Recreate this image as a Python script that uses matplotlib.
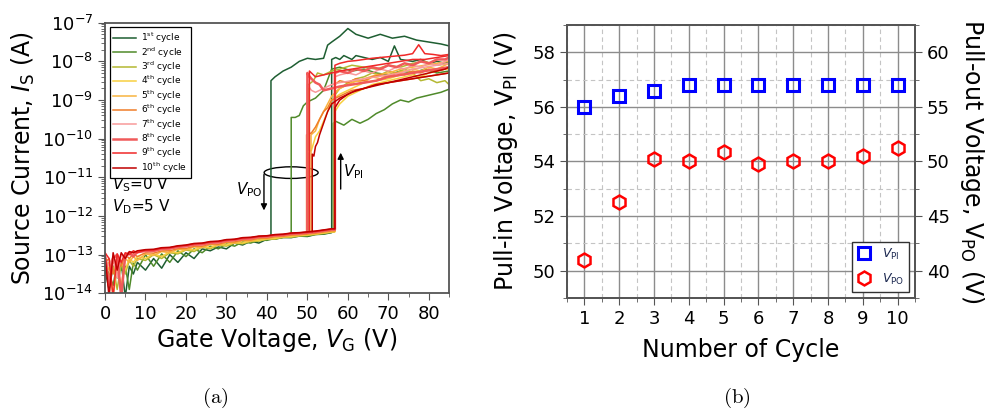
import numpy as np
import matplotlib
matplotlib.use("Agg")
import matplotlib.pyplot as plt
from matplotlib.patches import Ellipse
from matplotlib.ticker import MultipleLocator, LogLocator, NullFormatter

# ---- panel (a): I-V sweeps, log10 of source current ----
cycle_labels = ["1$^{\\rm st}$ cycle", "2$^{\\rm nd}$ cycle", "3$^{\\rm rd}$ cycle",
                "4$^{\\rm th}$ cycle", "5$^{\\rm th}$ cycle", "6$^{\\rm th}$ cycle",
                "7$^{\\rm th}$ cycle", "8$^{\\rm th}$ cycle", "9$^{\\rm th}$ cycle",
                "10$^{\\rm th}$ cycle"]
cycle_colors = ["#1e5e32", "#4f8a2a", "#b4b832", "#f8d040", "#f8b440",
                "#f07d28", "#f89a9a", "#f05a5a", "#f02828", "#c00000"]

base_v = [0, 1, 2, 3, 4, 5, 6, 7, 8, 10, 12, 14, 16, 18, 20, 22, 24, 26, 28, 30,
          32, 34, 36, 38, 40, 42, 44, 46, 48, 50, 52, 54, 56]
base_log = [
    [-13.4, -13.9, -13.3, -13.6, -13.2, -14.1, -13.3, -13.5, -13.2, -13.4, -13.1, -13.35, -13.0, -13.2, -12.95, -13.1, -12.85,
     -12.9, -12.8, -12.85, -12.7, -12.75, -12.65, -12.7, -12.6, -12.6, -12.55, -12.56, -12.52, -12.53, -12.48, -12.47, -12.43],
    [-13.3, -13.5, -13.8, -13.2, -13.4, -13.3, -13.9, -13.2, -13.4, -13.0, -13.3, -12.98, -13.2, -12.9, -13.05, -12.85, -12.95,
     -12.78, -12.85, -12.72, -12.78, -12.67, -12.7, -12.62, -12.63, -12.58, -12.56, -12.55, -12.51, -12.52, -12.47, -12.46, -12.42],
    [-13.2, -13.6, -13.3, -13.9, -13.25, -13.5, -13.15, -13.3, -13.1, -13.15, -13.0, -13.1, -12.95, -12.98, -12.88, -12.92, -12.8,
     -12.85, -12.75, -12.78, -12.7, -12.72, -12.66, -12.65, -12.6, -12.6, -12.55, -12.55, -12.52, -12.5, -12.48, -12.45, -12.42],
    [-13.3, -13.2, -14.1, -13.3, -13.15, -13.4, -13.1, -13.2, -13.05, -13.1, -12.98, -13.05, -12.92, -12.95, -12.86, -12.88, -12.79,
     -12.82, -12.74, -12.75, -12.69, -12.7, -12.64, -12.63, -12.59, -12.58, -12.54, -12.53, -12.5, -12.49, -12.46, -12.44, -12.41],
    [-13.1, -13.4, -13.2, -13.3, -13.8, -13.1, -13.2, -13.05, -13.15, -12.98, -13.02, -12.92, -12.95, -12.86, -12.88, -12.8, -12.82,
     -12.74, -12.76, -12.69, -12.7, -12.64, -12.65, -12.59, -12.59, -12.55, -12.54, -12.51, -12.5, -12.47, -12.46, -12.43, -12.4],
    [-13.2, -13.1, -13.5, -13.05, -13.3, -13.0, -13.1, -12.98, -13.05, -12.95, -12.96, -12.9, -12.9, -12.84, -12.84, -12.78, -12.78,
     -12.72, -12.73, -12.67, -12.67, -12.62, -12.62, -12.57, -12.57, -12.53, -12.52, -12.49, -12.48, -12.46, -12.44, -12.41, -12.38],
    [-13.1, -13.3, -13.05, -13.6, -13.0, -13.1, -12.98, -13.0, -12.95, -12.92, -12.92, -12.87, -12.86, -12.81, -12.8, -12.75, -12.75,
     -12.7, -12.69, -12.65, -12.63, -12.6, -12.59, -12.55, -12.54, -12.51, -12.5, -12.47, -12.46, -12.44, -12.42, -12.39, -12.36],
    [-13.0, -13.8, -13.1, -13.0, -14.1, -13.0, -12.95, -13.05, -12.92, -12.9, -12.9, -12.85, -12.84, -12.8, -12.78, -12.74, -12.73,
     -12.69, -12.68, -12.64, -12.62, -12.59, -12.58, -12.54, -12.53, -12.5, -12.49, -12.46, -12.45, -12.43, -12.41, -12.38, -12.35],
    [-12.95, -13.1, -14.1, -12.98, -13.2, -12.95, -13.0, -12.9, -12.95, -12.88, -12.88, -12.83, -12.82, -12.78, -12.76, -12.72, -12.71,
     -12.67, -12.66, -12.62, -12.61, -12.57, -12.56, -12.53, -12.52, -12.49, -12.48, -12.45, -12.44, -12.42, -12.4, -12.37, -12.34],
    [-13.0, -14.1, -12.95, -13.4, -12.95, -13.1, -12.92, -12.95, -12.9, -12.87, -12.86, -12.82, -12.81, -12.77, -12.75, -12.71, -12.7,
     -12.66, -12.65, -12.61, -12.6, -12.56, -12.55, -12.52, -12.51, -12.48, -12.47, -12.44, -12.43, -12.41, -12.39, -12.36, -12.33],
]

# forward branch after pull-in (starts at V_PI)
up_v = [
    [56, 57, 58, 59, 60, 61, 62, 64, 66, 68, 70, 71.5, 73, 76, 78, 80, 82, 84, 85],
    [56.4, 57, 59, 61, 63, 65, 67, 69, 71, 73, 75, 77, 79, 81, 83, 85],
    [56.6, 58, 60, 62, 64, 66, 68, 70, 72, 74, 76, 78, 80, 82, 84, 85],
    [56.8, 58, 60, 62, 64, 66, 68, 70, 72, 74, 76, 78, 80, 82, 84, 85],
    [56.8, 58, 60, 62, 64, 66, 68, 70, 72, 74, 76, 78, 80, 82, 84, 85],
    [56.8, 58, 60, 62, 64, 66, 68, 70, 72, 74, 76, 78, 80, 82, 84, 85],
    [56.8, 58, 60, 62, 64, 66, 68, 70, 72, 74, 76, 78, 80, 82, 84, 85],
    [56.8, 58, 60, 62, 64, 66, 68, 70, 72, 74, 76, 78, 80, 82, 84, 85],
    [56.8, 58, 60, 62, 64, 66, 68, 70, 72, 74, 76, 77.5, 79, 81, 83, 85],
    [56.8, 58, 60, 62, 64, 66, 68, 70, 72, 74, 76, 78, 80, 82, 84, 85],
]
up_log = [
    [-7.95, -7.9, -7.95, -7.85, -7.9, -7.95, -7.85, -7.9, -7.95, -7.9, -8.0, -7.6, -7.95, -8.0, -7.95, -8.05, -8.0, -8.05, -8.0],
    [-9.6, -9.55, -9.65, -9.5, -9.6, -9.5, -9.35, -9.25, -9.1, -9.0, -9.05, -8.95, -8.9, -8.85, -8.8, -8.72],
    [-8.9, -8.7, -8.55, -8.45, -8.4, -8.3, -8.35, -8.25, -8.3, -8.2, -8.3, -8.5, -8.45, -8.55, -8.5, -8.6],
    [-9.3, -9.1, -8.9, -8.8, -8.7, -8.6, -8.55, -8.5, -8.45, -8.4, -8.35, -8.4, -8.3, -8.25, -8.2, -8.2],
    [-8.8, -8.7, -8.6, -8.5, -8.55, -8.4, -8.45, -8.35, -8.3, -8.25, -8.2, -8.25, -8.15, -8.2, -8.1, -8.05],
    [-8.6, -8.5, -8.55, -8.45, -8.5, -8.4, -8.35, -8.4, -8.3, -8.35, -8.25, -8.3, -8.2, -8.25, -8.2, -8.15],
    [-8.4, -8.35, -8.3, -8.35, -8.25, -8.3, -8.2, -8.25, -8.15, -8.2, -8.1, -8.15, -8.05, -8.1, -8.0, -7.95],
    [-8.3, -8.25, -8.3, -8.2, -8.25, -8.15, -8.2, -8.1, -8.15, -8.05, -8.1, -8.0, -8.05, -7.95, -7.95, -7.9],
    [-8.1, -8.05, -8.0, -7.98, -7.95, -7.92, -7.9, -7.88, -7.86, -7.84, -7.8, -7.57, -7.8, -7.82, -7.85, -7.82],
    [-9.2, -9.0, -8.85, -8.75, -8.7, -8.65, -8.6, -8.55, -8.5, -8.45, -8.4, -8.35, -8.3, -8.25, -8.2, -8.15],
]

# backward branch, 85 V down to V_PO, ending with the drop
dn_v = [
    [85, 83, 80, 77, 74, 71, 68, 65, 62, 60, 58, 56, 55, 54, 52, 50, 48, 46, 44, 42, 41, 41],
    [85, 82, 79, 76, 73, 70, 67, 64, 61, 58, 56, 54, 52, 50, 49, 48, 47, 46, 46],
    [85, 82, 79, 76, 73, 70, 67, 64, 61, 58, 56, 54, 52.5, 51.5, 50.3, 50.3],
    [85, 82, 79, 76, 73, 70, 67, 64, 61, 58, 56, 55, 54, 53, 52, 51, 50, 50],
    [85, 82, 79, 76, 73, 70, 67, 64, 61, 58, 56, 55, 54, 53, 52, 50.9, 50.9],
    [85, 82, 79, 76, 73, 70, 67, 64, 61, 58, 56, 55, 54, 53, 52, 51, 49.8, 49.8],
    [85, 82, 79, 76, 73, 70, 67, 64, 61, 58, 56, 54, 52, 51, 50, 50],
    [85, 82, 79, 76, 73, 70, 67, 64, 61, 58, 56, 54, 53, 52, 51, 50.2, 50, 50],
    [85, 82, 79, 76, 73, 70, 67, 64, 61, 58, 56, 54, 52, 51, 50.5, 50.5],
    [85, 82, 79, 76, 73, 70, 67, 64, 61, 58, 56, 55, 54, 53, 52.5, 52, 51.6, 51.2, 51.2],
]
dn_log = [
    [-7.6, -7.55, -7.5, -7.45, -7.35, -7.4, -7.3, -7.4, -7.3, -7.15, -7.35, -7.5, -7.58, -7.92, -7.95, -7.92, -8.0, -8.15, -8.25, -8.4, -8.5, -12.53],
    [-8.25, -8.3, -8.2, -8.3, -8.25, -8.35, -8.3, -8.2, -8.25, -8.15, -8.2, -8.75, -8.95, -9.05, -9.15, -9.4, -9.45, -9.45, -12.47],
    [-8.05, -8.1, -8.0, -8.05, -8.15, -8.1, -8.2, -8.15, -8.1, -8.2, -8.25, -8.35, -8.3, -8.5, -8.6, -12.45],
    [-8.15, -8.2, -8.25, -8.3, -8.35, -8.45, -8.5, -8.55, -8.7, -8.85, -9.0, -9.3, -9.55, -9.8, -9.95, -10.3, -10.35, -12.44],
    [-8.0, -8.05, -8.1, -8.15, -8.2, -8.3, -8.35, -8.45, -8.55, -8.7, -8.9, -9.1, -9.3, -9.5, -9.8, -9.9, -12.42],
    [-8.3, -8.35, -8.4, -8.45, -8.5, -8.55, -8.6, -8.7, -8.75, -8.9, -9.0, -9.2, -9.3, -9.5, -9.7, -9.85, -9.9, -12.46],
    [-8.05, -8.1, -8.15, -8.2, -8.3, -8.35, -8.4, -8.45, -8.5, -8.55, -8.6, -8.7, -8.8, -8.75, -8.6, -12.44],
    [-8.15, -8.2, -8.25, -8.3, -8.35, -8.4, -8.5, -8.55, -8.6, -8.65, -8.7, -8.75, -8.6, -8.55, -8.45, -8.35, -8.3, -12.43],
    [-7.85, -7.9, -7.95, -7.95, -8.0, -8.05, -8.1, -8.15, -8.2, -8.25, -8.3, -8.35, -8.4, -8.3, -8.25, -12.42],
    [-8.3, -8.35, -8.4, -8.45, -8.5, -8.55, -8.6, -8.7, -8.8, -8.95, -9.1, -9.3, -9.6, -9.9, -10.1, -10.2, -10.45, -10.4, -12.40],
]

# ---- panel (b): pull-in / pull-out voltage per cycle ----
cycles = [1, 2, 3, 4, 5, 6, 7, 8, 9, 10]
v_pi = [56.0, 56.4, 56.6, 56.8, 56.8, 56.8, 56.8, 56.8, 56.8, 56.8]
v_po = [41.0, 46.25, 50.25, 50.0, 50.9, 49.8, 50.0, 50.0, 50.5, 51.25]

fig = plt.figure(figsize=(9.88, 4.13), dpi=100)
spine_col = "#555555"

# panel (a)
ax = fig.add_axes([0.1063, 0.2898, 0.3482, 0.6552])
for i in range(10):
    lw = 1.8 if i == 7 else 1.1
    xs = base_v + [up_v[i][0]] + up_v[i]
    ys = base_log[i] + [base_log[i][-1]] + up_log[i]
    ax.plot(xs, 10.0 ** np.array(ys), color=cycle_colors[i], lw=lw, label=cycle_labels[i])
    ax.plot(dn_v[i], 10.0 ** np.array(dn_log[i]), color=cycle_colors[i], lw=lw)

ax.set_yscale("log")
ax.set_xlim(0, 85)
ax.set_ylim(1e-14, 1e-7)
ax.xaxis.set_major_locator(MultipleLocator(10))
ax.xaxis.set_minor_locator(MultipleLocator(5))
ax.yaxis.set_major_locator(LogLocator(base=10, numticks=20))
ax.yaxis.set_minor_locator(LogLocator(base=10, subs=np.arange(2, 10), numticks=20))
ax.yaxis.set_minor_formatter(NullFormatter())
ax.tick_params(which="both", direction="out", labelsize=13, color=spine_col)
ax.tick_params(which="major", length=5)
ax.tick_params(which="minor", length=3)
for s in ax.spines.values():
    s.set_color(spine_col)
    s.set_linewidth(1.3)
ax.set_xlabel(r"Gate Voltage, $V_{\rm G}$ (V)", fontsize=17, labelpad=2)
ax.set_ylabel(r"Source Current, $I_{\rm S}$ (A)", fontsize=17)
ax.yaxis.set_label_coords(-0.198, 0.5)

leg = ax.legend(loc="upper left", fontsize=6.5, handlelength=2.5, labelspacing=0.0,
                frameon=True, fancybox=False, framealpha=1, borderaxespad=0.5,
                handletextpad=0.6, borderpad=0.4)
leg.get_frame().set_edgecolor("black")
leg.get_frame().set_linewidth(0.9)

ax.text(0.02, 0.40, r"$V_{\rm S}$=0 V", transform=ax.transAxes, fontsize=11, va="center")
ax.text(0.02, 0.319, r"$V_{\rm D}$=5 V", transform=ax.transAxes, fontsize=11, va="center")
ax.add_patch(Ellipse((0.541, 0.446), 0.157, 0.043, transform=ax.transAxes,
                     fill=False, ec="black", lw=1.0))
ax.annotate("", xy=(0.462, 0.296), xytext=(0.462, 0.449), xycoords="axes fraction",
            arrowprops=dict(arrowstyle="-|>", color="black", lw=1.0, mutation_scale=9))
ax.annotate("", xy=(0.685, 0.53), xytext=(0.685, 0.375), xycoords="axes fraction",
            arrowprops=dict(arrowstyle="-|>", color="black", lw=1.0, mutation_scale=9))
ax.text(0.419, 0.382, r"$V_{\rm PO}$", transform=ax.transAxes, fontsize=11,
        ha="center", va="center")
ax.text(0.722, 0.448, r"$V_{\rm PI}$", transform=ax.transAxes, fontsize=11,
        ha="center", va="center")

# panel (b)
bx = fig.add_axes([0.5739, 0.2785, 0.3522, 0.661])
bx2 = bx.twinx()
bx.set_xlim(0.5, 10.5)
bx.set_ylim(49, 59)
bx2.set_ylim(37.5, 62.5)
bx.xaxis.set_major_locator(MultipleLocator(1))
bx.xaxis.set_minor_locator(MultipleLocator(0.5))
bx.yaxis.set_major_locator(MultipleLocator(2))
bx.yaxis.set_minor_locator(MultipleLocator(1))
bx2.yaxis.set_major_locator(MultipleLocator(5))
bx2.yaxis.set_minor_locator(MultipleLocator(2.5))
bx.grid(which="major", color="#8c8c8c", lw=1.0, ls="-")
bx.grid(which="minor", color="#c4c4c4", lw=0.8, ls=(0, (4, 3)))
bx.set_axisbelow(True)

h1, = bx.plot(cycles, v_pi, ls="none", marker="s", ms=8.5, mfc="none", mec="#0000ff",
              mew=2.2, label=r"$V_{\rm PI}$")
h2, = bx2.plot(cycles, v_po, ls="none", marker="h", ms=10, mfc="none", mec="#ff0000",
               mew=1.8, label=r"$V_{\rm PO}$")

for a in (bx, bx2):
    a.tick_params(which="both", direction="out", labelsize=13, color=spine_col)
    a.tick_params(which="major", length=5)
    a.tick_params(which="minor", length=3)
    for s in a.spines.values():
        s.set_color(spine_col)
        s.set_linewidth(1.3)
bx.set_xlabel("Number of Cycle", fontsize=17)
bx.xaxis.set_label_coords(0.5, -0.147)
bx.set_ylabel(r"Pull-in Voltage, V$_{\rm PI}$ (V)", fontsize=17)
bx.yaxis.set_label_coords(-0.135, 0.5)
bx2.set_ylabel(r"Pull-out Voltage, V$_{\rm PO}$ (V)", fontsize=17, rotation=270)
bx2.yaxis.set_label_coords(1.204, 0.5)

leg2 = bx2.legend(handles=[h1, h2], loc="lower right", fontsize=9, frameon=True,
                  fancybox=False, framealpha=1, borderaxespad=0.5, handlelength=1.2,
                  labelspacing=0.8, labelcolor="#1c2850")
leg2.get_frame().set_edgecolor("#333333")
leg2.get_frame().set_linewidth(1.0)

fig.text(0.2176, 0.036, r"$\mathrm{(a)}$", fontsize=15, ha="center", va="center",
         math_fontfamily="cm")
fig.text(0.746, 0.036, r"$\mathrm{(b)}$", fontsize=15, ha="center", va="center",
         math_fontfamily="cm")

fig.savefig("out.png", dpi=100)
